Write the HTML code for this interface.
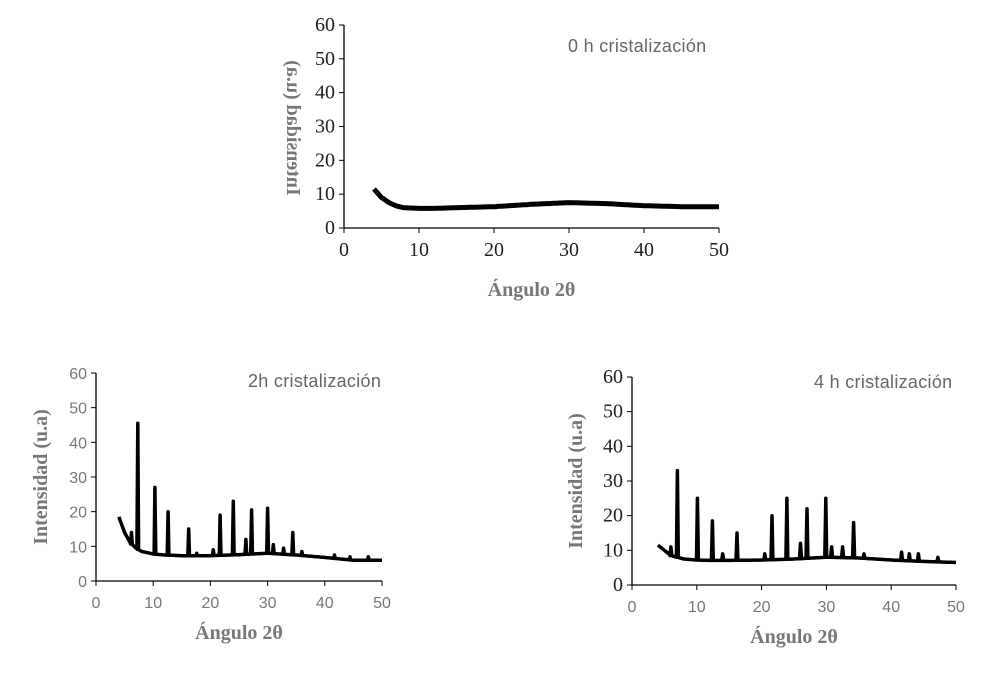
<!DOCTYPE html>
<html><head><meta charset="utf-8"><style>
html,body{margin:0;padding:0;background:#fff;}
svg{display:block;}
.tk{font-family:"Liberation Serif",serif;font-size:20px;fill:#222;}
.tkg{font-family:"Liberation Sans",sans-serif;font-size:16px;fill:#777;}
.ttl{font-family:"Liberation Sans",sans-serif;font-size:18px;fill:#666;letter-spacing:0.3px;}
.ax{font-family:"Liberation Serif",serif;font-size:20px;font-weight:bold;fill:#777;}
</style></head><body>
<svg id="c" width="983" height="680" viewBox="0 0 983 680">
<defs><clipPath id="clipTop" clipPathUnits="userSpaceOnUse"><rect x="280" y="0" width="700" height="680"/></clipPath></defs>
</svg>
<script>
const xTicks=[0,10,20,30,40,50];
const yTicks=[0,10,20,30,40,50,60];
// baseline (angle, intensity)
const base0X=[4,5,6,7,8,10,12,15,20,25,30,35,40,45,50];
const base0Y=[11.5,9,7.5,6.5,6,5.8,5.8,6,6.3,7,7.5,7.2,6.6,6.3,6.3];
const base2X=[4,5,6,7,8,10,12,15,20,25,30,35,40,45,50];
const base2Y=[18.5,14,11,9.5,8.5,7.8,7.5,7.3,7.3,7.6,8,7.5,6.8,6,6];
const peak2X=[6.2,7.3,10.3,12.6,16.2,17.6,20.5,21.7,24,26.2,27.2,30,31,32.8,34.4,36,41.7,44.4,47.6];
const peak2Y=[14,45.5,27,20,15,8,9,19,23,12,20.5,21,10.5,9.5,14,8.5,7.5,7,7];
const base4X=[4,5,6,7,8,10,12,15,20,25,30,35,40,45,50];
const base4Y=[11.5,10,8.5,8,7.5,7.2,7.1,7.1,7.2,7.5,8,7.8,7.2,6.8,6.5];
const peak4X=[6,7,10.1,12.4,14,16.2,20.5,21.6,23.9,26,27,29.9,30.8,32.5,34.2,35.8,41.6,42.8,44.2,47.2];
const peak4Y=[11,33,25,18.5,9,15,9,20,25,12,22,25,11,11,18,9,9.5,9,9,8];

const svg=document.getElementById('c');
const NS='http://www.w3.org/2000/svg';
function mk(t,a,p){const e=document.createElementNS(NS,t);for(const k in a)e.setAttribute(k,a[k]);(p||svg).appendChild(e);return e;}
function interp(xs,ys,x){if(x<=xs[0])return ys[0];for(let i=1;i<xs.length;i++){if(x<=xs[i]){const t=(x-xs[i-1])/(xs[i]-xs[i-1]);return ys[i-1]+t*(ys[i]-ys[i-1]);}}return ys[ys.length-1];}
function chart(o){
  const g=mk('g',{});
  
  
  const sx=v=>o.x0+(o.x1-o.x0)*v/50, sy=v=>o.y0-(o.y0-o.y1)*v/60;
  let pts=[];
  const px=o.px||[],py=o.py||[];
  const evts=[];
  for(let a=o.bx[0];a<=50;a+=0.25)evts.push([a,null]);
  px.forEach((p,i)=>evts.push([p,i]));
  evts.sort((a,b)=>a[0]-b[0]);
  evts.forEach(([a,i])=>{
    const b=interp(o.bx,o.by,a);
    if(i===null){pts.push([sx(a),sy(b)]);}
    else{const w=0.15;pts.push([sx(a-w),sy(b)]);pts.push([sx(a),sy(py[i])]);pts.push([sx(a+w),sy(interp(o.bx,o.by,a+w))]);}
  });
  const line=mk('polyline',{points:pts.map(p=>p[0].toFixed(1)+','+p[1].toFixed(1)).join(' '),fill:'none',stroke:'#000','stroke-width':o.sw,'stroke-linejoin':'round'},g);
  
  
  const ya=mk('line',{x1:o.x0,y1:o.y1,x2:o.x0,y2:o.y0,stroke:'#000','stroke-width':1.3},g);
  
  
  const xa=mk('line',{x1:o.x0,y1:o.y0,x2:o.x1,y2:o.y0,stroke:'#000','stroke-width':1.3},g);
  
  
  yTicks.forEach(v=>{
    mk('line',{x1:o.x0-5,y1:sy(v),x2:o.x0,y2:sy(v),stroke:'#000'},g);
    const t=mk('text',{x:o.x0-9,y:sy(v)+6,'text-anchor':'end',class:o.yc},g);t.textContent=v;
    
    
  });
  xTicks.forEach(v=>{
    mk('line',{x1:sx(v),y1:o.y0,x2:sx(v),y2:o.y0+5,stroke:'#000'},g);
    const t=mk('text',{x:sx(v),y:o.y0+o.xdy,'text-anchor':'middle',class:o.xc},g);t.textContent=v;
    
    
  });
  const ti=mk('text',{x:o.tx,y:o.ty,class:'ttl'},g);ti.textContent=o.title;
  
  
  const xt=mk('text',{x:(o.x0+o.x1)/2,y:o.y0+o.xty,'text-anchor':'middle',class:'ax'},g);xt.textContent='Ángulo 2θ';
  
  
  const holder=mk('g',o.clip?{'clip-path':'url(#clipTop)'}:{},g);
  const ya2=mk('text',{x:0,y:0,'text-anchor':'middle',class:'ax',transform:o.ytr},holder);ya2.textContent='Intensidad (u.a)';
  
  
}
chart({name:'chart-0h',x0:344,x1:719,y0:228,y1:25,bx:base0X,by:base0Y,sw:5,yc:'tk',xc:'tk',xdy:28,xty:68,tx:568,ty:52,title:'0 h cristalización',ytr:'translate(287,128) rotate(90) scale(-1,1)',clip:true});
chart({name:'chart-2h',x0:96,x1:382,y0:581,y1:373,bx:base2X,by:base2Y,px:peak2X,py:peak2Y,sw:3.5,yc:'tkg',xc:'tkg',xdy:27,xty:58,tx:248,ty:387,title:'2h cristalización',ytr:'translate(47,477) rotate(-90)'});
chart({name:'chart-4h',x0:632,x1:956,y0:585,y1:377,bx:base4X,by:base4Y,px:peak4X,py:peak4Y,sw:3.5,yc:'tk',xc:'tkg',xdy:27,xty:58,tx:814,ty:388,title:'4 h cristalización',ytr:'translate(582,481) rotate(-90)'});
</script>
</body></html>
